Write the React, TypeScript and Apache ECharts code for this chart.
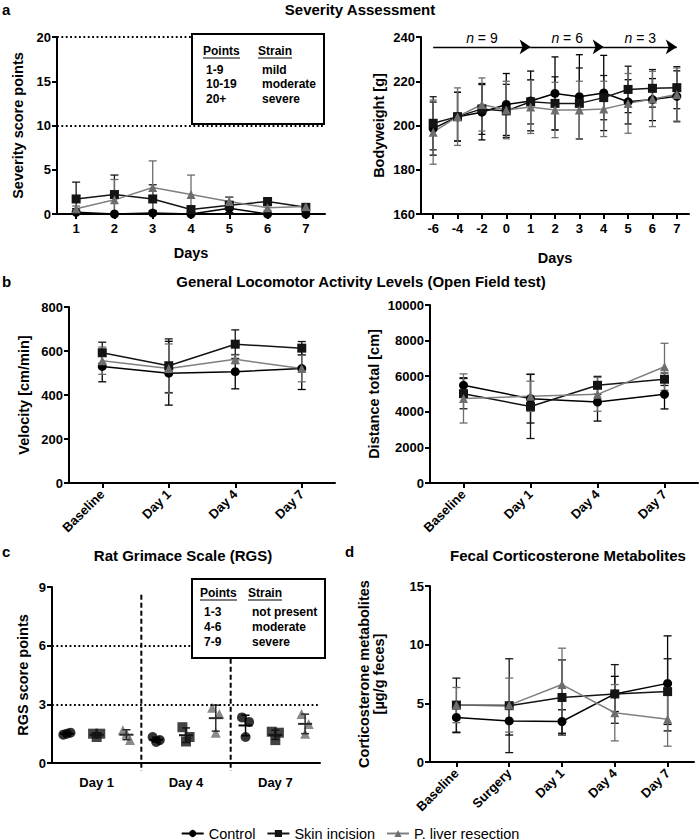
import { useEffect, useRef } from 'react';
import * as echarts from 'echarts';

const FONT = '"Liberation Sans", Arial, Helvetica, sans-serif';
const BLACK = '#000000';
const SKIN = '#141414';
const GREY = '#6d6d6d';
const GREY_LINE = '#808080';

const groupNames = ['Control', 'Skin incision', 'P. liver resection'];

// a – severity score
const severityDays = ['1', '2', '3', '4', '5', '6', '7'];
const sevControl = [0.2, 0, 0.1, 0, 0.65, 0, 0];
const sevControlSd = [0.4, 0, 0.3, 0, 0.5, 0, 0];
const sevSkin = [1.7, 2.2, 1.7, 0.5, 1.0, 1.4, 0.75];
const sevSkinSd = [1.9, 2.2, 1.6, 0.4, 0.9, 0.45, 0.3];
const sevLiver = [0.6, 1.6, 3.0, 2.2, 1.4, 0.7, 0.85];
const sevLiverSd = [0.3, 2.3, 3.0, 2.2, 0.5, 0.3, 0.3];
const severityBands = ['1-9', '10-19', '20+'];
const severityStrain = ['mild', 'moderate', 'severe'];
const severityLimits = [10, 20];

// a – bodyweight
const weightDays = ['-6', '-4', '-2', '0', '1', '2', '3', '4', '5', '6', '7'];
const wControl = [198.6, 204, 206, 209.5, 211.1, 214.5, 213, 214.7, 210.7, 211.7, 213.2];
const wControlSd = [12, 11, 12.5, 14, 13.5, 16.5, 19, 17, 10, 9.5, 11.5];
const wSkin = [201, 204, 207.5, 206.6, 210.7, 210, 210, 212.6, 216.3, 216.8, 217.1];
const wSkinSd = [12, 11, 11.5, 12, 10, 12, 16, 10, 10.5, 8.5, 9.5];
const wLiver = [197, 204, 209.5, 207, 208.4, 207, 207, 207.5, 210, 212, 214];
const wLiverSd = [14.5, 13, 12, 13, 12, 12.5, 13, 12.5, 13.5, 12.5, 12];
const cohortStart = ['-6', '1', '4'];
const cohortEnd = ['1', '4', '7'];
const cohortN = [9, 6, 3];
const cohortLevel = 235.5;

// b – open field
const tests = ['Baseline', 'Day 1', 'Day 4', 'Day 7'];
const velControl = [530, 499, 506, 520];
const velControlSd = [70, 145, 78, 95];
const velSkin = [592, 533, 631, 613];
const velSkinSd = [48, 122, 65, 30];
const velLiver = [556, 520, 562, 520];
const velLiverSd = [62, 112, 20, 60];
const distControl = [5490, 4740, 4550, 4980];
const distControlSd = [420, 1370, 1070, 820];
const distSkin = [5020, 4300, 5490, 5830];
const distSkinSd = [850, 1800, 500, 350];
const distLiver = [4750, 4870, 4980, 6530];
const distLiverSd = [1380, 850, 950, 1320];

// c – rat grimace scale, three animals per group and day
const rgsDays = ['Day 1', 'Day 4', 'Day 7'];
const rgsControl = [[1.45, 1.55, 1.5], [1.33, 1.17, 1.08], [2.33, 2.1, 1.33]];
const rgsSkin = [[1.5, 1.5, 1.33], [1.83, 1.33, 1.1], [1.6, 1.55, 1.17]];
const rgsLiver = [[1.67, 1.17, 1.5], [2.83, 2.5, 1.55], [2.5, 2.0, 1.5]];
const rgsJitter = [-0.12, 0.12, 0];
const rgsBands = ['1-3', '4-6', '7-9'];
const rgsStrain = ['not present', 'moderate', 'severe'];
const rgsLimits = [3, 6];
const rgsDividers = [3, 6];

// d – fecal corticosterone metabolites
const fcmDays = ['Baseline', 'Surgery', 'Day 1', 'Day 4', 'Day 7'];
const fcmControl = [3.8, 3.5, 3.45, 5.8, 6.7];
const fcmControlSd = [1.3, 1.2, 1.0, 1.5, 4.05];
const fcmSkin = [4.85, 4.8, 5.5, 5.8, 6.0];
const fcmSkinSd = [2.3, 4.0, 3.2, 2.5, 2.8];
const fcmLiver = [4.85, 4.85, 6.6, 4.2, 3.65];
const fcmLiverSd = [1.5, 2.3, 3.1, 2.4, 2.3];

const groupStyle = [
  { symbol: 'circle', color: BLACK, line: BLACK, size: 9 },
  { symbol: 'rect', color: SKIN, line: SKIN, size: 9 },
  { symbol: 'triangle', color: GREY, line: GREY_LINE, size: 9 },
];

const tickFont = { color: '#000', fontFamily: FONT, fontWeight: 'bold' as const, fontSize: 13 };
const nameFont = { color: '#000', fontFamily: FONT, fontWeight: 'bold' as const, fontSize: 14.5 };
const axisLine = { show: true, onZero: false, lineStyle: { color: '#000', width: 2 } };
const axisTick = { show: true, length: 5, lineStyle: { color: '#000', width: 2 } };

function catX(gi: number, data: string[], extra: any = {}) {
  return {
    type: 'category', gridIndex: gi, data, boundaryGap: true,
    axisLine, axisTick: { ...axisTick, alignWithLabel: true },
    splitLine: { show: false },
    nameTextStyle: nameFont,
    ...extra,
    axisLabel: { ...tickFont, interval: 0, margin: 8, ...(extra.axisLabel || {}) },
  };
}

function valY(gi: number, min: number, max: number, interval: number, name: string, nameGap: number) {
  return {
    type: 'value', gridIndex: gi, min, max, interval,
    name, nameLocation: 'middle', nameGap, nameTextStyle: nameFont,
    axisLine, axisTick,
    axisLabel: { ...tickFont, margin: 6, formatter: (v: number) => String(v) },
    splitLine: { show: false },
  };
}

function lineSeries(gi: number, g: number, data: number[], extra: any = {}) {
  const st = groupStyle[g];
  return {
    type: 'line', name: groupNames[g], xAxisIndex: gi, yAxisIndex: gi, data,
    symbol: st.symbol, symbolSize: st.size, z: 3,
    itemStyle: { color: st.color },
    lineStyle: { color: st.line, width: 1.5 },
    ...extra,
  };
}

function errorBars(gi: number, g: number, means: number[], sds: number[], cap: number, floor = -Infinity) {
  const color = groupStyle[g].color;
  return {
    type: 'custom', xAxisIndex: gi, yAxisIndex: gi, z: 2, silent: true, clip: false,
    data: means.map((m, i) => [i, Math.max(floor, m - sds[i]), m + sds[i]]),
    encode: { x: 0, y: [1, 2] },
    renderItem: (_p: any, api: any) => {
      const x = api.value(0);
      const a = api.coord([x, api.value(2)]);
      const b = api.coord([x, api.value(1)]);
      const style = { stroke: color, lineWidth: 1.3 };
      return {
        type: 'group',
        children: [
          { type: 'line', shape: { x1: a[0], y1: a[1], x2: b[0], y2: b[1] }, style },
          { type: 'line', shape: { x1: a[0] - cap, y1: a[1], x2: a[0] + cap, y2: a[1] }, style },
          { type: 'line', shape: { x1: b[0] - cap, y1: b[1], x2: b[0] + cap, y2: b[1] }, style },
        ],
      };
    },
  };
}

function panel(gi: number, means: number[][], sds: number[][], cap: number, floor = -Infinity, firstExtra: any = {}) {
  const out: any[] = [];
  means.forEach((m, g) => out.push(errorBars(gi, g, m, sds[g], cap, floor)));
  means.forEach((m, g) => out.push(lineSeries(gi, g, m, g === 0 ? firstExtra : {})));
  return out;
}

function rgsSeries(values: number[][], g: number) {
  const st = groupStyle[g];
  const points: number[][] = [];
  values.forEach((vals, d) => vals.forEach((v, k) => points.push([d * 3 + g + 0.5 + rgsJitter[k], v])));
  const summary = values.map((vals, d) => {
    const m = vals.reduce((s, v) => s + v, 0) / vals.length;
    const sd = Math.sqrt(vals.reduce((s, v) => s + (v - m) * (v - m), 0) / (vals.length - 1));
    return [d * 3 + g + 0.5, m, sd];
  });
  return [
    {
      type: 'scatter', name: groupNames[g], xAxisIndex: 4, yAxisIndex: 4, data: points,
      symbol: st.symbol, symbolSize: st.size + 1, itemStyle: { color: st.color }, z: 3,
    },
    {
      type: 'custom', xAxisIndex: 4, yAxisIndex: 4, z: 4, silent: true, clip: false,
      data: summary,
      renderItem: (_p: any, api: any) => {
        const x = api.value(0), m = api.value(1), s = api.value(2);
        const c = api.coord([x, m]);
        const hi = api.coord([x, m + s]);
        const lo = api.coord([x, m - s]);
        const style = { stroke: g === 2 ? '#2a2a2a' : st.color, lineWidth: 1.5 };
        return {
          type: 'group',
          children: [
            { type: 'line', shape: { x1: c[0] - 7, y1: c[1], x2: c[0] + 7, y2: c[1] }, style: { ...style, lineWidth: 2 } },
            { type: 'line', shape: { x1: hi[0], y1: hi[1], x2: lo[0], y2: lo[1] }, style },
            { type: 'line', shape: { x1: hi[0] - 4, y1: hi[1], x2: hi[0] + 4, y2: hi[1] }, style },
            { type: 'line', shape: { x1: lo[0] - 4, y1: lo[1], x2: lo[0] + 4, y2: lo[1] }, style },
          ],
        };
      },
    },
  ];
}

const dottedLimits = (levels: number[]) => ({
  silent: true, symbol: ['none', 'none'], animation: false,
  label: { show: false },
  lineStyle: { color: '#000', width: 2, type: [1.8, 2.6] },
  emphasis: { disabled: true },
  data: levels.map((v) => ({ yAxis: v })),
});

function txt(x: number, y: number, text: string, font: string, align = 'left') {
  return {
    type: 'text', x, y, z: 110,
    style: { text, font, fill: '#000', textAlign: align, textVerticalAlign: 'middle', align, verticalAlign: 'middle' },
  };
}

function keyBox(x: number, y: number, w: number, h: number, c1: number, c2: number, c1r: number, c2r: number,
  headY: number, rowY: number[], bands: string[], strain: string[]) {
  const bf = `bold 12px ${FONT}`;
  const els: any[] = [
    { type: 'rect', z: 100, shape: { x, y, width: w, height: h }, style: { fill: '#fff', stroke: '#000', lineWidth: 2 } },
    txt(c1, headY, 'Points', bf),
    txt(c2, headY, 'Strain', bf),
    { type: 'line', z: 110, shape: { x1: c1, y1: headY + 7, x2: c1 + 37, y2: headY + 7 }, style: { stroke: '#000', lineWidth: 1.2 } },
    { type: 'line', z: 110, shape: { x1: c2, y1: headY + 7, x2: c2 + 34, y2: headY + 7 }, style: { stroke: '#000', lineWidth: 1.2 } },
  ];
  bands.forEach((b, i) => {
    els.push(txt(c1r, rowY[i], b, bf));
    els.push(txt(c2r, rowY[i], strain[i], bf));
  });
  return els;
}

function buildOption() {
  const titleFont = `bold 15px ${FONT}`;
  const letterFont = `bold 15px ${FONT}`;

  // cohort size annotations along the top of the bodyweight panel
  const cohortMarks = {
    silent: true,
    symbol: ['none', 'arrow'],
    symbolSize: 11,
    lineStyle: { color: '#000', width: 1.3, type: 'solid' },
    emphasis: { disabled: true },
    label: {
      show: true, position: 'middle', distance: 2,
      color: '#000', fontFamily: FONT, fontSize: 14,
      formatter: (p: any) => `{i|n} = ${p.name}`,
      rich: { i: { fontStyle: 'italic', fontFamily: FONT, fontSize: 14, color: '#000' } },
    },
    data: cohortN.map((n, i) => [
      { name: String(n), coord: [cohortStart[i], cohortLevel] },
      { coord: [cohortEnd[i], cohortLevel] },
    ]),
  };

  const rgsDividerSeries = {
    type: 'custom', xAxisIndex: 4, yAxisIndex: 4, z: 1, silent: true, clip: false,
    data: rgsDividers.map((v) => [v]),
    renderItem: (_p: any, api: any) => {
      const top = api.coord([api.value(0), 8.6]);
      const bottom = api.coord([api.value(0), 0]);
      return {
        type: 'line',
        shape: { x1: top[0], y1: top[1], x2: bottom[0], y2: bottom[1] + 8 },
        style: { stroke: '#000', lineWidth: 2, lineDash: [5, 3] },
      };
    },
  };

  const series: any[] = [
    ...panel(0, [sevControl, sevSkin, sevLiver], [sevControlSd, sevSkinSd, sevLiverSd], 4, 0,
      { markLine: dottedLimits(severityLimits) }),
    ...panel(1, [wControl, wSkin, wLiver], [wControlSd, wSkinSd, wLiverSd], 3.5, -Infinity,
      { markLine: cohortMarks }),
    ...panel(2, [velControl, velSkin, velLiver], [velControlSd, velSkinSd, velLiverSd], 4),
    ...panel(3, [distControl, distSkin, distLiver], [distControlSd, distSkinSd, distLiverSd], 4),
    ...panel(5, [fcmControl, fcmSkin, fcmLiver], [fcmControlSd, fcmSkinSd, fcmLiverSd], 4),
    rgsDividerSeries,
    ...rgsSeries(rgsControl, 0),
    ...rgsSeries(rgsSkin, 1),
    ...rgsSeries(rgsLiver, 2),
    {
      type: 'line', xAxisIndex: 4, yAxisIndex: 4, data: [], silent: true,
      markLine: dottedLimits(rgsLimits),
    },
  ];

  return {
    animation: false,
    backgroundColor: '#fff',
    textStyle: { fontFamily: FONT },
    grid: [
      { left: 57, top: 37, width: 268, height: 177 },
      { left: 421, top: 37, width: 268, height: 177 },
      { left: 69, top: 307, width: 266, height: 176 },
      { left: 430, top: 305, width: 268, height: 178 },
      { left: 52, top: 587, width: 268, height: 176 },
      { left: 430, top: 586, width: 264, height: 176 },
    ],
    xAxis: [
      catX(0, severityDays, { name: 'Days', nameLocation: 'middle', nameGap: 31 }),
      catX(1, weightDays, { name: 'Days', nameLocation: 'middle', nameGap: 36 }),
      catX(2, tests, { axisLabel: { rotate: 45, margin: 9 } }),
      catX(3, tests, { axisLabel: { rotate: 45, margin: 9 } }),
      {
        type: 'value', gridIndex: 4, min: 0, max: 9, interval: 1.5,
        axisLine, axisTick: { show: false }, splitLine: { show: false },
        axisLabel: {
          ...tickFont, margin: 13, showMinLabel: true, showMaxLabel: true,
          formatter: (v: number) => {
            const k = Math.round((v - 1.5) / 3);
            return k >= 0 && k < rgsDays.length && Math.abs(v - (1.5 + 3 * k)) < 1e-6 ? rgsDays[k] : '';
          },
        },
      },
      catX(5, fcmDays, { axisLabel: { rotate: 45, margin: 9 } }),
    ],
    yAxis: [
      valY(0, 0, 20, 5, 'Severity score points', 32),
      valY(1, 160, 240, 20, 'Bodyweight [g]', 35),
      valY(2, 0, 800, 200, 'Velocity [cm/min]', 38),
      valY(3, 0, 10000, 2000, 'Distance total [cm]', 49),
      valY(4, 0, 9, 3, 'RGS score points', 22),
      valY(5, 0, 15, 5, 'Corticosterone metabolites\n[µg/g feces]', 44),
    ],
    legend: {
      top: 821, left: 'center', selectedMode: false,
      data: groupNames,
      itemWidth: 22, itemHeight: 9, itemGap: 11,
      textStyle: { color: '#000', fontFamily: FONT, fontSize: 14.5 },
    },
    graphic: [
      txt(2, 9, 'a', letterFont),
      txt(360, 9, 'Severity Assessment', titleFont, 'center'),
      txt(2, 281, 'b', letterFont),
      txt(361, 281, 'General Locomotor Activity Levels (Open Field test)', titleFont, 'center'),
      txt(2, 551, 'c', letterFont),
      txt(183, 555, 'Rat Grimace Scale (RGS)', titleFont, 'center'),
      txt(345, 551, 'd', letterFont),
      txt(568, 555, 'Fecal Corticosterone Metabolites', titleFont, 'center'),
      ...keyBox(192, 34, 132, 90, 203, 258, 206, 262, 51, [70, 84, 99], severityBands, severityStrain),
      ...keyBox(192, 579, 133, 79, 200, 248, 204, 252, 593, [612, 627, 642], rgsBands, rgsStrain),
    ],
    series,
  };
}

export default function App() {
  const ref = useRef<HTMLDivElement>(null);
  useEffect(() => {
    if (!ref.current) return;
    const chart = echarts.init(ref.current, undefined, { renderer: 'svg' });
    chart.setOption(buildOption() as any);
    return () => chart.dispose();
  }, []);
  return (
    <div
      ref={ref}
      style={{ position: 'fixed', left: 0, top: 0, width: 700, height: 840, background: '#fff' }}
    />
  );
}
